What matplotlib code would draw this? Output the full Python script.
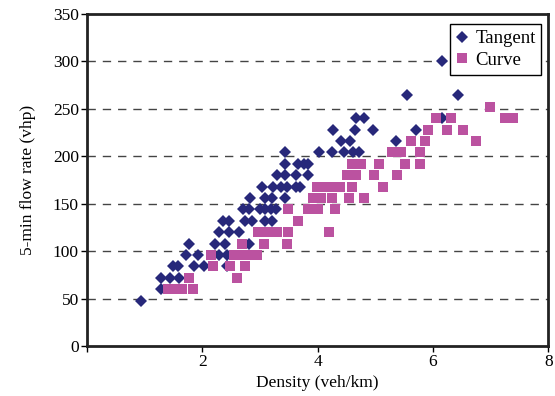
import matplotlib
matplotlib.use("Agg")
import matplotlib.pyplot as plt

# Tangent section: density (veh/km) and 5-min flow rate (vph)
tangent_x = [0.94, 1.28, 1.28, 1.43, 1.6, 1.49, 1.57, 1.86, 2.03, 2.43,
             1.71, 1.92, 2.28, 2.42, 1.77, 2.22, 2.40, 2.8, 2.28, 2.46, 2.63,
             2.35, 2.46, 2.73, 2.86, 3.09, 3.2, 2.71, 2.8, 2.99, 3.09, 3.19, 3.28,
             2.83, 3.09, 3.2, 3.43, 3.03, 3.23, 3.36, 3.47, 3.62, 3.7,
             3.29, 3.43, 3.63, 3.83, 3.43, 3.66, 3.77, 3.83,
             3.43, 4.02, 4.24, 4.45, 4.61, 4.72, 4.4, 4.56, 5.35,
             4.27, 4.65, 4.95, 5.7, 4.67, 4.81, 6.16, 5.54, 6.43, 6.16]
tangent_y = [48, 60, 72, 72, 72, 84, 84, 84, 84, 84,
             96, 96, 96, 96, 108, 108, 108, 108, 120, 120, 120,
             132, 132, 132, 132, 132, 132, 144, 144, 144, 144, 144, 144,
             156, 156, 156, 156, 168, 168, 168, 168, 168, 168,
             180, 180, 180, 180, 192, 192, 192, 192,
             204, 204, 204, 204, 204, 204, 216, 216, 216,
             228, 228, 228, 228, 240, 240, 240, 264, 264, 300]

# Curve section
curve_x = [1.4, 1.52, 1.64, 1.84, 1.76, 2.6, 2.19, 2.48, 2.74,
           2.14, 2.55, 2.69, 2.83, 2.94, 2.69, 3.06, 3.46,
           2.96, 3.14, 3.3, 3.49, 4.2, 3.66, 3.48, 3.83, 4.0, 4.3,
           3.92, 4.06, 4.24, 4.55, 4.8, 3.98, 4.12, 4.27, 4.38, 4.6, 5.14,
           4.5, 4.67, 4.97, 5.37, 4.6, 4.75, 5.06, 5.52, 5.78,
           5.28, 5.45, 5.78, 5.62, 5.86, 6.75, 5.92, 6.24, 6.52,
           6.05, 6.32, 7.25, 7.38, 6.98]
curve_y = [60, 60, 60, 60, 72, 72, 84, 84, 84,
           96, 96, 96, 96, 96, 108, 108, 108,
           120, 120, 120, 120, 120, 132, 144, 144, 144, 144,
           156, 156, 156, 156, 156, 168, 168, 168, 168, 168, 168,
           180, 180, 180, 180, 192, 192, 192, 192, 192,
           204, 204, 204, 216, 216, 216, 228, 228, 228,
           240, 240, 240, 240, 252]

plt.rcParams['font.family'] = ['Liberation Serif', 'DejaVu Serif']

fig = plt.figure(figsize=(5.55, 3.96), dpi=100)
ax = fig.add_axes([0.157, 0.126, 0.831, 0.839])

ax.plot(tangent_x, tangent_y, linestyle='none', marker='D', markersize=5.8,
        color='#27287a', markeredgewidth=0, label='Tangent', zorder=3)
ax.plot(curve_x, curve_y, linestyle='none', marker='s', markersize=7,
        color='#bb52a0', markeredgewidth=0, label='Curve', zorder=4)

ax.set_xlim(0, 8)
ax.set_ylim(0, 350)
ax.set_xticks([0, 2, 4, 6, 8])
ax.set_xticklabels(['', '2', '4', '6', '8'])
ax.set_yticks(range(0, 351, 50))

# dashed horizontal grid
for g in range(50, 301, 50):
    ax.axhline(g, color='#444444', linestyle=(0, (6, 5)), linewidth=1, zorder=1)

for s in ax.spines.values():
    s.set_linewidth(2)
    s.set_color('#222222')

ax.tick_params(direction='out', length=4, width=1, labelsize=12.5, pad=2)
ax.set_xlabel('Density (veh/km)', fontsize=12.5, labelpad=3)
ax.set_ylabel('5-min flow rate (vhp)', fontsize=12.5, labelpad=12)

leg = ax.legend(loc='upper right', fontsize=13.5, frameon=True, fancybox=False,
                handlelength=0.7, handletextpad=0.35, borderpad=0.3,
                labelspacing=0.25, borderaxespad=0.3, bbox_to_anchor=(0.997, 0.985))
leg.get_frame().set_edgecolor('black')
leg.get_frame().set_linewidth(1)
leg.get_frame().set_alpha(1)

fig.savefig('out.png', dpi=100)
